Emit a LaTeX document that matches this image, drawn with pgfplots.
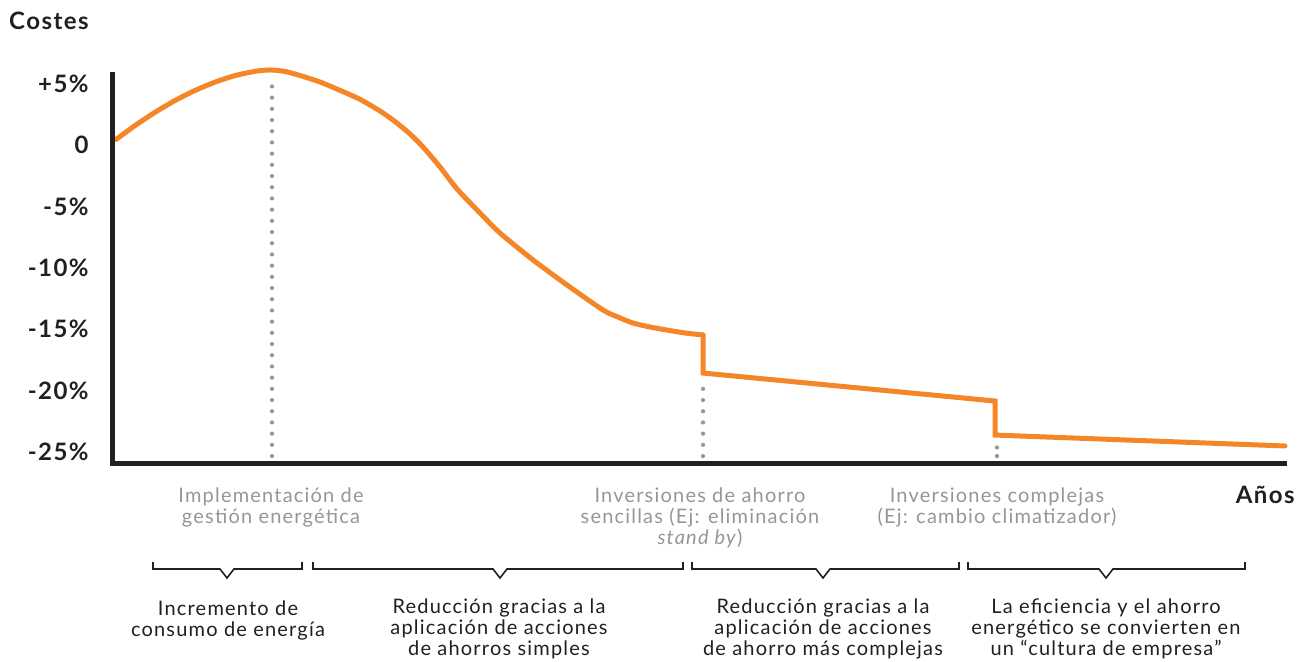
\documentclass[border=0pt]{standalone}
\usepackage{fontspec}
\setmainfont{Lato}[LetterSpace=6]
\usepackage{pgfplots}
\pgfplotsset{compat=1.18}

\definecolor{naranja}{RGB}{245,134,40}
\definecolor{gris}{RGB}{150,150,153}
\definecolor{oscuro}{RGB}{35,31,32}

\tikzset{
  % anchor=base sits on the LAST line of a multi-line node
  lab/.style={align=center, font=\fontsize{10}{10.5}\selectfont, inner sep=0pt, anchor=base},
  titulo/.style={anchor=base east, inner sep=0pt, text=oscuro, font=\fontsize{12}{12}\selectfont\bfseries},
  punteado/.style={gris, line width=2.1pt, line cap=round, dash pattern=on 0pt off 5.6pt},
}

% pixel row of the reference -> percent
\def\Y#1{(145-#1)/12.28}
\newcommand\llave[3]{%
  \draw[oscuro, line width=0.8pt, line join=miter]
    (axis cs:#1,{\Y{562}}) -- (axis cs:#1,{\Y{569}}) -- (axis cs:{#2-7},{\Y{569}})
    -- (axis cs:#2,{\Y{578}}) -- (axis cs:{#2+7},{\Y{569}})
    -- (axis cs:#3,{\Y{569}}) -- (axis cs:#3,{\Y{562}});}

\begin{document}
\begin{tikzpicture}
\begin{axis}[
  scale only axis, width=587pt, height=195.5pt,
  xmin=113, xmax=1287, ymin=-25.90, ymax=5.94,
  axis lines=left, axis line style={draw=none},
  xtick=\empty,
  ytick={-25,-20,-15,-10,-5,0,5},
  yticklabels={-25\%,-20\%,-15\%,-10\%,-5\%,0,+5\%},
  major tick length=0pt, tick style={draw=none},
  yticklabel style={font=\fontsize{12}{12}\selectfont\bfseries, text=oscuro,
    inner sep=0pt, xshift=-12pt},
  clip=false,
]
% guide lines
\addplot[punteado] coordinates {(272,-25.33) (272,5.46)};
\addplot[punteado] coordinates {(703,-25.33) (703,-19.22)};
\addplot[punteado, dash pattern=on 0pt off 4.3pt] coordinates {(997,-25.33) (997,-23.94)};

% cost curve
\addplot[naranja, line width=2.5pt, line cap=round, smooth, tension=0.4] coordinates {
  (116,0.45) (135,1.58) (155,2.66) (175,3.62) (195,4.44) (215,5.12)
  (235,5.65) (255,6.00) (270,6.11) (285,5.99) (300,5.66) (320,5.13)
  (340,4.45) (360,3.72) (380,2.77) (395,1.91) (410,0.90) (423,-0.16)
  (440,-1.79) (457,-3.58) (480,-5.54) (500,-7.17) (533,-9.36)
  (567,-11.40) (603,-13.44) (618,-14.01) (633,-14.50) (650,-14.82)
  (667,-15.07) (685,-15.31) (703,-15.47)
};
\addplot[naranja, line width=2.5pt, line cap=round, line join=miter] coordinates {
  (703,-15.47) (703,-18.57) (995,-20.85) (995,-23.62) (1285,-24.51)
};

\draw[oscuro, line width=2.5pt, line join=miter]
  (rel axis cs:0,1) -- (rel axis cs:0,0) -- (rel axis cs:1,0);

\node[titulo] at (axis cs:89,{\Y{30}}) {Costes};
\node[titulo] at (axis cs:1295,{\Y{503}}) {Años};

\node[lab, text=gris] at (axis cs:271,{\Y{524}}) {Implementación de\\gestión energética};
\node[lab, text=gris] at (axis cs:700,{\Y{545}}) {Inversiones de ahorro\\sencillas (Ej: eliminación\\\textit{stand by})};
\node[lab, text=gris] at (axis cs:997,{\Y{524}}) {Inversiones complejas\\(Ej: cambio climatizador)};

\llave{153}{227}{302}
\llave{313}{500}{683}
\llave{692}{823}{959}
\llave{968}{1106}{1245}

\node[lab, text=oscuro] at (axis cs:228,{\Y{636}}) {Incremento de\\consumo de energía};
\node[lab, text=oscuro] at (axis cs:499,{\Y{656}}) {Reducción gracias a la\\aplicación de acciones\\de ahorros simples};
\node[lab, text=oscuro] at (axis cs:823,{\Y{656}}) {Reducción gracias a la\\aplicación de acciones\\de ahorro más complejas};
\node[lab, text=oscuro] at (axis cs:1106,{\Y{656}}) {La eficiencia y el ahorro\\energético se convierten en\\un “cultura de empresa”};

\path (axis cs:0,{\Y{0}}) rectangle (axis cs:1300,{\Y{662}});
\end{axis}
\end{tikzpicture}
\end{document}
